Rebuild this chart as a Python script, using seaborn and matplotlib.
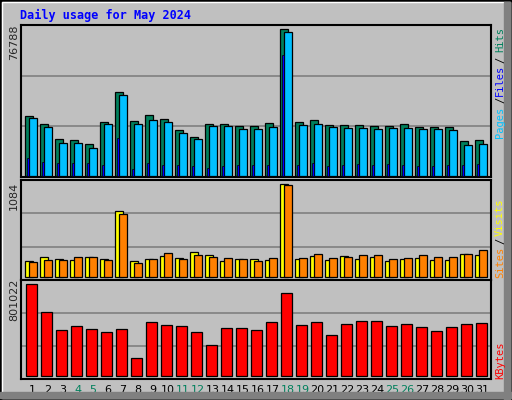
import numpy as np
import matplotlib
matplotlib.use("Agg")
import matplotlib.pyplot as plt
import seaborn as sns
from matplotlib.patches import Rectangle

days = list(range(1, 32))
weekend = [4, 5, 11, 12, 18, 19, 25, 26]
title = "Daily usage for May 2024"

hits = [31340, 27160, 19330, 18810, 16720, 28210, 43880, 28730, 31870, 29780, 24030, 20370, 27160, 27160, 26120, 26120,
        27690, 76788, 28210, 29250, 26640, 26640, 26640, 26120, 26120, 27160, 25600, 25600, 25600, 18280, 18810]
files = [30300, 25600, 17240, 17240, 14630, 27160, 42310, 27160, 29250, 28210, 22460, 19330, 26120, 26120, 24550, 24550,
         25600, 75220, 26640, 27160, 25600, 25080, 25080, 24550, 25080, 25080, 24550, 24550, 24030, 16190, 16720]
pages = [9400, 7310, 6790, 6790, 6790, 5750, 19850, 3660, 6790, 5750, 5750, 5220, 4180, 5220, 5750, 5750,
         5750, 63210, 5750, 6790, 5220, 5750, 6270, 5750, 6270, 5750, 5220, 5220, 5750, 5750, 6270]

visits = [177, 224, 200, 189, 224, 200, 765, 177, 200, 236, 212, 283, 248, 177, 200, 200,
          189, 1084, 200, 236, 189, 236, 200, 224, 177, 200, 212, 189, 189, 259, 248]
sites = [165, 189, 189, 224, 224, 189, 730, 153, 200, 271, 200, 248, 224, 212, 200, 177,
         212, 1072, 212, 259, 212, 224, 248, 248, 200, 212, 248, 224, 224, 259, 306]

kbytes = [801022, 555000, 397000, 432000, 406000, 380000, 406000, 152000, 468000, 441000, 432000, 380000, 266000,
          414000, 414000, 397000, 468000, 725000, 441000, 468000, 354000, 450000, 476000, 476000, 432000, 450000,
          423000, 389000, 423000, 450000, 459000]

BG = "#C0C0C0"
sns.set_theme(style="white", rc={"axes.facecolor": BG, "figure.facecolor": BG})
plt.rcParams['font.family'] = ['DejaVu Sans']

W, H = 512, 400
fig = plt.figure(figsize=(5.12, 4.0), dpi=100)

def ax_at(x0, y0, x1, y1):
    return fig.add_axes([x0 / W, 1 - y1 / H, (x1 - x0) / W, (y1 - y0) / H])

d = np.array(days)

def setup(ax, axtop, axbot, base, maxtop, maxval):
    vpp = maxval / (base - maxtop)
    lo = -(axbot - base) * vpp
    hi = (base - axtop) * vpp
    ax.set_ylim(lo, hi)
    ax.set_xlim(0.33, 31.67)
    for k in (1, 2):
        ax.axhline(lo + (hi - lo) * k / 3, color="#808080", lw=1.2, zorder=0)
    ax.set_yticks([])
    for s in ax.spines.values():
        s.set_color("black")
        s.set_linewidth(1.5)
        s.set_visible(True)

ax1 = ax_at(21, 25, 491, 177)
ax1.bar(d - 0.13, hits, width=0.53, color="#00805C", edgecolor="black", lw=0.9, zorder=2)
ax1.bar(d + 0.13, files, width=0.53, color="#00C0FF", edgecolor="black", lw=0.9, zorder=3)
ax1.bar(d - 0.2, pages, width=0.13, color="#0000FF", edgecolor="black", lw=0.5, zorder=4)
setup(ax1, 25, 177, 176, 29, 76788)
ax1.set_xticks([])

ax2 = ax_at(21, 180, 491, 280)
ax2.bar(d - 0.13, visits, width=0.5, color="#FFFF00", edgecolor="black", lw=0.9, zorder=2)
ax2.bar(d + 0.13, sites, width=0.5, color="#FF8000", edgecolor="black", lw=0.9, zorder=3)
setup(ax2, 180, 280, 276.5, 184, 1084)
ax2.set_xticks([])

ax3 = ax_at(21, 280, 491, 379)
ax3.bar(d + 0.03, kbytes, width=0.7, color="#FF0000", edgecolor="black", lw=0.9, zorder=2)
setup(ax3, 280, 379, 375.7, 284.3, 801022)
ax3.set_xticks(d + 0.1)
ax3.set_xticklabels([str(x) for x in days], fontsize=8)
ax3.tick_params(axis="x", length=0, pad=4)
for lab, dd in zip(ax3.get_xticklabels(), days):
    lab.set_color("#00805C" if dd in weekend else "black")

fig.text(20 / W, 1 - 15 / H, title, family="DejaVu Sans Mono", weight="bold", color="#0000FF",
         fontsize=8.5, va="center", ha="left")
for txt, py in [("76788", 42), ("1084", 196), ("801022", 300)]:
    fig.text(14 / W, 1 - py / H, txt, rotation=90, fontsize=8, va="center", ha="center")

def vt(txt, py, col):
    fig.text(500 / W, 1 - py / H, txt, rotation=90, fontsize=7.5, family="DejaVu Sans Mono",
             color=col, va="center", ha="center")

vt("Pages", 122, "#00C0FF"); vt("/", 100, "black"); vt("Files", 80, "#0000FF")
vt("/", 60, "black"); vt("Hits", 40, "#00805C")
vt("Sites", 262, "#FF8000"); vt("/", 241, "black"); vt("Visits", 217, "#FFFF00")
vt("KBytes", 360, "#FF0000")

fig.patches.append(Rectangle((0, 0), 1, 1, transform=fig.transFigure, fill=False, ec="black", lw=2))
fig.patches.append(Rectangle((2 / W, 2 / H), 1 - 4 / W, 1 - 4 / H, transform=fig.transFigure,
                             fill=False, ec="white", lw=1))
fig.patches.append(Rectangle((1 - 8 / W, 0), 6 / W, 1 - 2 / H, transform=fig.transFigure, color="#808080"))
fig.patches.append(Rectangle((0, 2 / H), 1, 6 / H, transform=fig.transFigure, color="#808080"))

fig.savefig("out.png", dpi=100, facecolor=BG)
